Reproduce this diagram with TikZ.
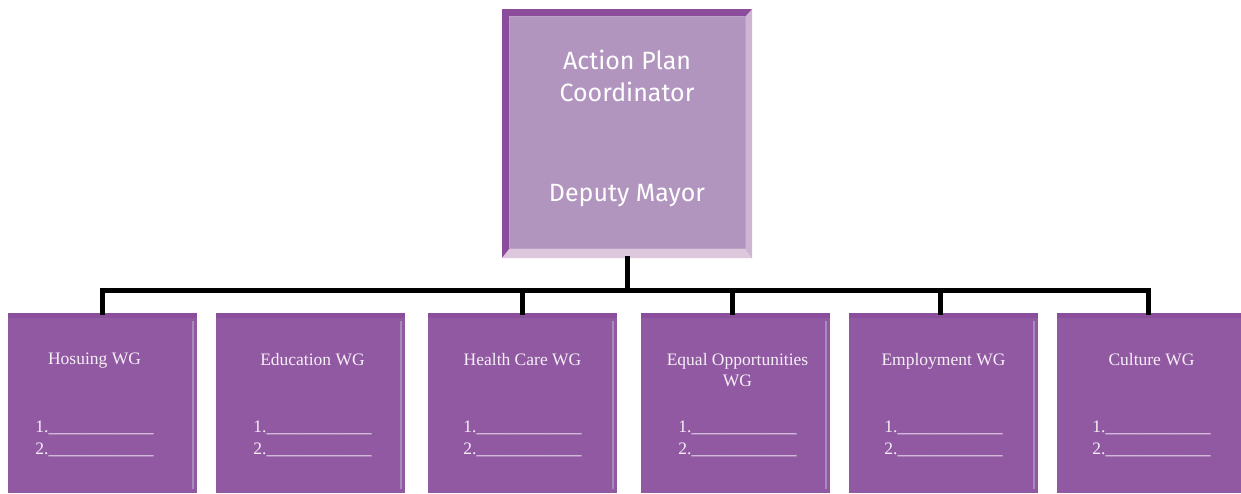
\documentclass[tikz,border=0pt]{standalone}
\usepackage{fontspec}
\setmainfont{Liberation Serif}
\newfontfamily\headfont{Fira Sans}
\usetikzlibrary{calc}

\definecolor{wgfill}{HTML}{9259A3}
\definecolor{wgtop}{HTML}{8A4E9C}
\definecolor{wgedge}{HTML}{A88BBD}
\definecolor{wgtext}{HTML}{F5EFF6}
\definecolor{apcframe}{HTML}{8C4C9C}
\definecolor{apcinner}{HTML}{B195BF}
\definecolor{apcright}{HTML}{CDB5D3}
\definecolor{apcbottom}{HTML}{DDC7DC}
\definecolor{apcline}{HTML}{BDA2C6}

\tikzset{
  apcbox/.style={rectangle, inner sep=0pt, minimum width=250pt, minimum height=249pt, fill=apcframe},
  apctext/.style={text=white, align=center, inner sep=0pt, font=\headfont\fontsize{25}{32}\selectfont},
  wgbox/.style={rectangle, inner sep=0pt, minimum width=189pt, minimum height=180pt, fill=wgfill},
  wgtitle/.style={text=wgtext, align=center, inner sep=0pt, anchor=north, font=\fontsize{17.5}{21}\selectfont},
  wglist/.style={text=wgtext, align=left, inner sep=0pt, anchor=north, font=\fontsize{17.5}{22}\selectfont},
  conn/.style={draw=black, line width=5pt, line join=miter, line cap=rect}
}

\newcommand{\wgblank}{\_\_\_\_\_\_\_\_\_\_\_\_}

\begin{document}
\begin{tikzpicture}[x=1pt,y=-1pt]
\useasboundingbox (0,0) rectangle (1241,493);

% coordinator box with bevelled frame
\node[apcbox] (apc) at (627,133.5) {};
\fill[apcright] ($(apc.north east)+(-7,8)$) -- (apc.north east) -- (apc.south east) -- ($(apc.south east)+(-7,-10)$) -- cycle;
\fill[apcbottom] ($(apc.south west)+(8,-10)$) -- ($(apc.south east)+(-7,-10)$) -- (apc.south east) -- (apc.south west) -- cycle;
\fill[apcinner, draw=apcline, line width=0.8pt] ($(apc.north west)+(8,8)$) rectangle ($(apc.south east)+(-7,-10)$);
\node[apctext] (apctitle) at ($(apc.north)+(0,67)$) {Action Plan\\Coordinator};
\node[apctext] (apcname) at ($(apc.north)+(0,187)$) {Deputy Mayor};

% working group boxes
\node[wgbox] (b1) at (102.5,403) {};
\node[wgbox] (b2) at (310.5,403) {};
\node[wgbox] (b3) at (522.5,403) {};
\node[wgbox] (b4) at (735.5,403) {};
\node[wgbox] (b5) at (943.5,403) {};
\node[wgbox] (b6) at (1151.5,403) {};

\foreach \b in {b1,b2,b3,b4,b5,b6}{
  \fill[wgtop] (\b.north west) rectangle ($(\b.north east)+(0,5)$);
  \draw[wgedge, line width=1.5pt] ($(\b.north east)+(-4,8)$) -- ($(\b.south east)+(-4,-4)$);
}

\node[wgtitle] (t1) at ($(b1.north)+(-8,40)$) {Hosuing WG};
\node[wgtitle] (t2) at ($(b2.north)+(2,40)$) {Education WG};
\node[wgtitle] (t3) at ($(b3.north)+(0,40)$) {Health Care WG};
\node[wgtitle] (t4) at ($(b4.north)+(2,40)$) {Equal Opportunities\\WG};
\node[wgtitle] (t5) at ($(b5.north)+(0,40)$) {Employment WG};
\node[wgtitle] (t6) at ($(b6.north)+(0,40)$) {Culture WG};

\node[wglist] (l1) at ($(b1.north)+(-8,108)$) {1.\wgblank\\2.\wgblank};
\node[wglist] (l2) at ($(b2.north)+(2,108)$) {1.\wgblank\\2.\wgblank};
\node[wglist] (l3) at ($(b3.north)+(0,108)$) {1.\wgblank\\2.\wgblank};
\node[wglist] (l4) at ($(b4.north)+(2,108)$) {1.\wgblank\\2.\wgblank};
\node[wglist] (l5) at ($(b5.north)+(0,108)$) {1.\wgblank\\2.\wgblank};
\node[wglist] (l6) at ($(b6.north)+(0,108)$) {1.\wgblank\\2.\wgblank};

% connectors from the coordinator down to the working groups
\coordinate (bus) at ($(apc.south)+(0,32)$);
\coordinate (d4) at ($(b4.north)+(-3,0)$);
\coordinate (d5) at ($(b5.north)+(-3,0)$);
\coordinate (d6) at ($(b6.north)+(-3,0)$);
\draw[conn] (apc.south) -- (bus);
\draw[conn] (b1.north) |- (d6 |- bus) -- (d6);
\draw[conn] (b3.north) -- (b3.north |- bus);
\draw[conn] (d4) -- (d4 |- bus);
\draw[conn] (d5) -- (d5 |- bus);
\end{tikzpicture}
\end{document}
